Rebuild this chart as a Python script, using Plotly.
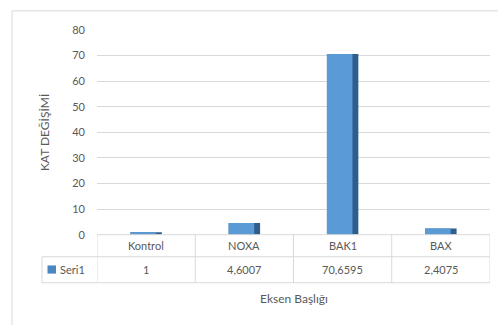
import plotly.graph_objects as go

# Data
categories = ["Kontrol", "NOXA", "BAK1", "BAX"]
values = [1, 4.6007, 70.6595, 2.4075]
value_labels = ["1", "4,6007", "70,6595", "2,4075"]
series_name = "Seri1"
y_ticks = [0, 10, 20, 30, 40, 50, 60, 70, 80]

W, H = 498, 331
FONT = "Lato, Open Sans, sans-serif"
GRAY_TXT = "#595959"
GRID = "#D9D9D9"


def px(x):
    return x / W


def py(y):
    return 1 - y / H


plot_left, plot_right = 97, 490
plot_top, plot_bottom = 24, 237
row1_bottom, row2_bottom = 260, 287
legend_cell_left = 42

fig = go.Figure()

# darker back layer gives the column its shaded right edge
fig.add_trace(go.Bar(
    x=categories, y=values, width=0.32,
    marker=dict(color="#2F5E8E", line=dict(width=0)),
    hoverinfo="skip", showlegend=False,
))
# main face of the column
fig.add_trace(go.Bar(
    x=categories, y=values, width=0.26, offset=-0.16,
    marker=dict(color="#5B9BD5", line=dict(width=0)),
    name=series_name, showlegend=False,
))

fig.update_layout(
    width=W, height=H,
    margin=dict(l=0, r=0, t=0, b=0),
    paper_bgcolor="white", plot_bgcolor="white",
    barmode="overlay",
    font=dict(family=FONT, color=GRAY_TXT, size=11),
    xaxis=dict(
        domain=[px(plot_left), px(plot_right)],
        range=[-0.5, 3.5],
        showticklabels=False, showgrid=False, zeroline=False,
        showline=False, ticks="",
    ),
    yaxis=dict(
        domain=[py(plot_bottom), py(plot_top)],
        range=[0, 80],
        tickvals=y_ticks,
        showgrid=True, gridcolor=GRID, gridwidth=1,
        zeroline=False, showline=False, ticks="",
        tickfont=dict(size=11, color=GRAY_TXT, family=FONT),
        ticklabelstandoff=11,
        title=dict(text="KAT DEĞİŞİMİ", font=dict(size=12, color=GRAY_TXT, family=FONT),
                   standoff=20),
    ),
)

shapes = []
line_style = dict(color=GRID, width=1)

# outer chart border (top and left edges)
shapes.append(dict(type="line", xref="paper", yref="paper",
                   x0=px(12), x1=1.0, y0=py(4), y1=py(4), line=line_style))
shapes.append(dict(type="line", xref="paper", yref="paper",
                   x0=px(12), x1=px(12), y0=py(4), y1=0, line=line_style))

# data table grid
for y in (plot_bottom, row1_bottom, row2_bottom):
    x0 = plot_left if y == plot_bottom else legend_cell_left
    shapes.append(dict(type="line", xref="paper", yref="paper",
                       x0=px(x0), x1=px(plot_right), y0=py(y), y1=py(y), line=line_style))
for i in range(len(categories) + 1):
    shapes.append(dict(type="line", xref="x", yref="paper",
                       x0=i - 0.5, x1=i - 0.5, y0=py(plot_bottom), y1=py(row2_bottom),
                       line=line_style))
shapes.append(dict(type="line", xref="paper", yref="paper",
                   x0=px(legend_cell_left), x1=px(legend_cell_left),
                   y0=py(row1_bottom), y1=py(row2_bottom), line=line_style))

# legend key in the table
shapes.append(dict(type="rect", xref="paper", yref="paper",
                   x0=px(47.5), x1=px(56), y0=py(277.5), y1=py(269),
                   fillcolor="#4A86C0", line=dict(width=0)))

cell_font = dict(size=11, color=GRAY_TXT, family=FONT)
annotations = []
for cat, lab in zip(categories, value_labels):
    annotations.append(dict(x=cat, xref="x", y=py(248.5), yref="paper",
                            text=cat, showarrow=False,
                            xanchor="center", yanchor="middle", font=cell_font))
    annotations.append(dict(x=cat, xref="x", y=py(273.5), yref="paper",
                            text=lab, showarrow=False,
                            xanchor="center", yanchor="middle", font=cell_font))
annotations.append(dict(x=px(58), xref="paper", y=py(273.5), yref="paper",
                        text=series_name, showarrow=False,
                        xanchor="left", yanchor="middle", font=cell_font))
annotations.append(dict(x=px((plot_left + plot_right) / 2), xref="paper",
                        y=py(303), yref="paper", text="Eksen Başlığı",
                        showarrow=False, xanchor="center", yanchor="middle",
                        font=dict(size=12, color=GRAY_TXT, family=FONT)))

fig.update_layout(shapes=shapes, annotations=annotations)

fig.write_html("out.html")
